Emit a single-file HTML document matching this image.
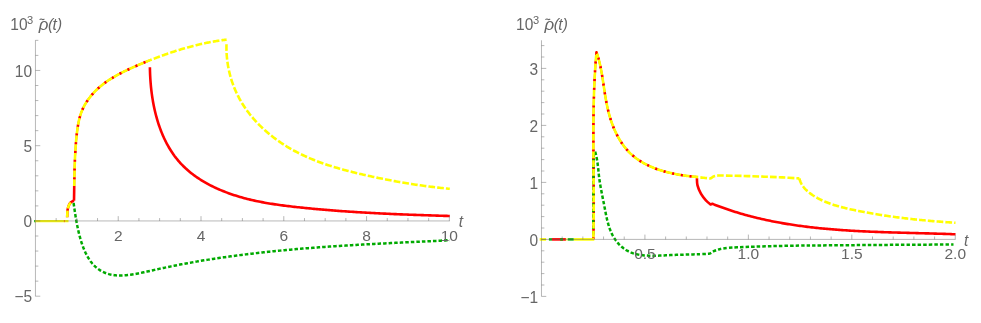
<!DOCTYPE html>
<html><head><meta charset="utf-8"><title>plots</title>
<style>
html,body{margin:0;padding:0;background:#fff;}
svg{display:block;}
.tl{font-family:"Liberation Sans",sans-serif;font-size:15.5px;fill:#666666;}
</style></head><body>
<svg width="981" height="323" viewBox="0 0 981 323" style="will-change:transform">
<rect width="981" height="323" fill="#ffffff"/>
<path d="M67.20 217.30 C67.22 216.85 67.23 215.85 67.30 214.60 C67.37 213.35 67.35 211.33 67.60 209.80 C67.85 208.27 68.28 206.62 68.80 205.40 C69.32 204.18 70.08 203.18 70.70 202.50 C71.32 201.82 71.95 201.58 72.50 201.30 C73.05 201.02 73.75 200.88 74.00 200.80" stroke="#ff0000" stroke-width="2.60" fill="none" />
<path d="M74.00 200.80 L74.02 199.83 L74.04 198.86 L74.05 197.89 L74.07 196.91 L74.09 195.94 L74.10 194.96 L74.12 193.98 L74.14 193.00 L74.15 192.02 L74.17 191.03 L74.18 190.05 L74.20 189.06 L74.21 188.07 L74.23 187.08 L74.24 186.09" stroke="#ff0000" stroke-width="2.60" fill="none" />
<path d="M74.24 186.09 L74.26 185.10 L74.27 184.11 L74.29 183.11 L74.31 182.12 L74.32 181.12 L74.34 180.12 L74.36 179.12 L74.38 178.12 L74.40 177.12 L74.42 176.12 L74.44 175.12 L74.46 174.12 L74.49 173.11 L74.51 172.11 L74.54 171.10 L74.56 170.10 L74.59 169.09 L74.62 168.09 L74.65 167.08 L74.68 166.07 L74.72 165.07 L74.75 164.06 L74.79 163.05 L74.82 162.04 L74.86 161.04 L74.91 160.03 L74.95 159.02 L74.99 158.01 L75.04 157.01 L75.09 156.00 L75.14 154.99 L75.20 153.98 L75.25 152.98 L75.31 151.97 L75.37 150.97 L75.43 149.96 L75.50 148.96 L75.57 147.95 L75.64 146.95 L75.71 145.95 L75.78 144.95 L75.86 143.94 L75.94 142.94 L76.03 141.95 L76.12 140.95 L76.21 139.95 L76.30 138.95 L76.39 137.96 L76.49 136.96 L76.60 135.97 L76.70 134.98 L76.81 133.99 L76.93 133.00 L77.04 132.01 L77.17 131.03 L77.29 130.04 L77.43 129.06 L77.57 128.08 L77.71 127.10 L77.87 126.13 L78.03 125.16 L78.20 124.19 L78.38 123.22 L78.57 122.26 L78.77 121.30 L78.98 120.35 L79.21 119.40 L79.44 118.45 L79.69 117.51 L79.95 116.57 L80.23 115.64 L80.52 114.71 L80.82 113.79 L81.14 112.87 L81.47 111.95 L81.83 111.05 L82.20 110.15 L82.58 109.25 L82.99 108.36 L83.41 107.48 L83.85 106.60 L84.31 105.73 L84.78 104.87 L85.27 104.01 L85.78 103.16 L86.30 102.32 L86.84 101.48 L87.39 100.66 L87.95 99.84 L88.53 99.03 L89.12 98.23 L89.73 97.43 L90.35 96.65 L90.97 95.87 L91.62 95.10 L92.27 94.35 L92.93 93.60 L93.60 92.86 L94.29 92.13 L94.98 91.41 L95.68 90.70 L96.39 90.00 L97.11 89.31 L97.83 88.63 L98.57 87.97 L99.31 87.31 L100.06 86.66 L100.81 86.03 L101.57 85.40 L102.34 84.79 L103.12 84.18 L103.90 83.58 L104.69 82.99 L105.48 82.41 L106.28 81.84 L107.08 81.28 L107.90 80.73 L108.71 80.18 L109.54 79.64 L110.36 79.11 L111.20 78.59 L112.04 78.07 L112.88 77.56 L113.73 77.05 L114.58 76.56 L115.44 76.07 L116.30 75.58 L117.17 75.10 L118.04 74.63 L118.91 74.16 L119.79 73.69 L120.67 73.23 L121.56 72.78 L122.45 72.33 L123.34 71.88 L124.24 71.44 L125.14 71.00 L126.04 70.56 L126.95 70.13 L127.86 69.70 L128.77 69.27 L129.68 68.84 L130.60 68.42 L131.51 68.00 L132.43 67.59 L133.36 67.17 L134.28 66.76 L135.21 66.35 L136.13 65.95 L137.06 65.54 L137.99 65.14 L138.93 64.74 L139.86 64.35 L140.79 63.96 L141.73 63.56 L142.66 63.18 L143.60 62.79 L144.53 62.41 L145.47 62.03 L146.41 61.65 L147.34 61.27 L148.28 60.90 L149.21 60.53" stroke="#ff0000" stroke-width="1.90" fill="none" />
<path d="M74.24 186.09 L74.26 185.10 L74.27 184.11 L74.29 183.11 L74.31 182.12 L74.32 181.12 L74.34 180.12 L74.36 179.12 L74.38 178.12 L74.40 177.12 L74.42 176.12 L74.44 175.12 L74.46 174.12 L74.49 173.11 L74.51 172.11 L74.54 171.10 L74.56 170.10 L74.59 169.09 L74.62 168.09 L74.65 167.08 L74.68 166.07 L74.72 165.07 L74.75 164.06 L74.79 163.05 L74.82 162.04 L74.86 161.04 L74.91 160.03 L74.95 159.02 L74.99 158.01 L75.04 157.01 L75.09 156.00 L75.14 154.99 L75.20 153.98 L75.25 152.98 L75.31 151.97 L75.37 150.97 L75.43 149.96 L75.50 148.96 L75.57 147.95 L75.64 146.95 L75.71 145.95 L75.78 144.95 L75.86 143.94 L75.94 142.94 L76.03 141.95 L76.12 140.95 L76.21 139.95 L76.30 138.95 L76.39 137.96 L76.49 136.96 L76.60 135.97 L76.70 134.98 L76.81 133.99 L76.93 133.00 L77.04 132.01 L77.17 131.03 L77.29 130.04 L77.43 129.06 L77.57 128.08 L77.71 127.10 L77.87 126.13 L78.03 125.16 L78.20 124.19 L78.38 123.22 L78.57 122.26 L78.77 121.30 L78.98 120.35 L79.21 119.40 L79.44 118.45 L79.69 117.51 L79.95 116.57 L80.23 115.64 L80.52 114.71 L80.82 113.79 L81.14 112.87 L81.47 111.95 L81.83 111.05 L82.20 110.15 L82.58 109.25 L82.99 108.36 L83.41 107.48 L83.85 106.60 L84.31 105.73 L84.78 104.87 L85.27 104.01 L85.78 103.16 L86.30 102.32 L86.84 101.48 L87.39 100.66 L87.95 99.84 L88.53 99.03 L89.12 98.23 L89.73 97.43 L90.35 96.65 L90.97 95.87 L91.62 95.10 L92.27 94.35 L92.93 93.60 L93.60 92.86 L94.29 92.13 L94.98 91.41 L95.68 90.70 L96.39 90.00 L97.11 89.31 L97.83 88.63 L98.57 87.97 L99.31 87.31 L100.06 86.66 L100.81 86.03 L101.57 85.40 L102.34 84.79 L103.12 84.18 L103.90 83.58 L104.69 82.99 L105.48 82.41 L106.28 81.84 L107.08 81.28 L107.90 80.73 L108.71 80.18 L109.54 79.64 L110.36 79.11 L111.20 78.59 L112.04 78.07 L112.88 77.56 L113.73 77.05 L114.58 76.56 L115.44 76.07 L116.30 75.58 L117.17 75.10 L118.04 74.63 L118.91 74.16 L119.79 73.69 L120.67 73.23 L121.56 72.78 L122.45 72.33 L123.34 71.88 L124.24 71.44 L125.14 71.00 L126.04 70.56 L126.95 70.13 L127.86 69.70 L128.77 69.27 L129.68 68.84 L130.60 68.42 L131.51 68.00 L132.43 67.59 L133.36 67.17 L134.28 66.76 L135.21 66.35 L136.13 65.95 L137.06 65.54 L137.99 65.14 L138.93 64.74 L139.86 64.35 L140.79 63.96 L141.73 63.56 L142.66 63.18 L143.60 62.79 L144.53 62.41 L145.47 62.03 L146.41 61.65 L147.34 61.27 L148.28 60.90 L149.21 60.53" stroke="#ff0000" stroke-width="2.60" fill="none" stroke-dasharray="2.3 6.5" stroke-dashoffset="2.2"/>
<path d="M149.90 67.20 L149.93 68.66 L149.96 70.12 L150.00 71.59 L150.05 73.06 L150.11 74.54 L150.18 76.02 L150.26 77.51 L150.35 79.00 L150.45 80.50 L150.56 82.00 L150.68 83.50 L150.81 85.01 L150.95 86.52 L151.11 88.03 L151.27 89.54 L151.45 91.06 L151.64 92.57 L151.84 94.09 L152.05 95.60 L152.27 97.12 L152.51 98.64 L152.76 100.15 L153.02 101.67 L153.30 103.18 L153.58 104.69 L153.88 106.20 L154.20 107.71 L154.52 109.21 L154.86 110.72 L155.22 112.21 L155.59 113.71 L155.97 115.20 L156.36 116.68 L156.77 118.16 L157.20 119.64 L157.64 121.11 L158.09 122.57 L158.56 124.03 L159.04 125.48 L159.54 126.92 L160.06 128.36 L160.59 129.78 L161.13 131.20 L161.69 132.62 L162.27 134.02 L162.87 135.41 L163.48 136.80 L164.10 138.17 L164.75 139.54 L165.41 140.89 L166.09 142.23 L166.78 143.56 L167.49 144.88 L168.22 146.19 L168.97 147.49 L169.73 148.77 L170.52 150.04 L171.32 151.29 L172.14 152.54 L172.97 153.76 L173.83 154.98 L174.70 156.18 L175.60 157.36 L176.51 158.53 L177.44 159.68 L178.39 160.82 L179.36 161.94 L180.35 163.04 L181.36 164.13 L182.39 165.19 L183.44 166.24 L184.51 167.28 L185.59 168.30 L186.70 169.30 L187.82 170.28 L188.95 171.25 L190.10 172.20 L191.27 173.14 L192.46 174.06 L193.65 174.96 L194.87 175.85 L196.09 176.72 L197.33 177.57 L198.58 178.41 L199.85 179.24 L201.13 180.05 L202.41 180.84 L203.71 181.62 L205.02 182.38 L206.34 183.13 L207.68 183.87 L209.02 184.58 L210.36 185.29 L211.72 185.98 L213.09 186.66 L214.46 187.32 L215.84 187.96 L217.23 188.60 L218.62 189.22 L220.02 189.82 L221.42 190.42 L222.83 190.99 L224.24 191.56 L225.66 192.11 L227.08 192.65 L228.50 193.18 L229.93 193.69 L231.35 194.19 L232.78 194.67 L234.22 195.15 L235.65 195.61 L237.09 196.06 L238.52 196.50 L239.96 196.93 L241.41 197.34 L242.85 197.75 L244.30 198.14 L245.74 198.53 L247.19 198.90 L248.65 199.26 L250.10 199.62 L251.56 199.96 L253.01 200.30 L254.47 200.62 L255.93 200.94 L257.39 201.25 L258.86 201.55 L260.32 201.84 L261.79 202.12 L263.26 202.40 L264.73 202.67 L266.20 202.93 L267.68 203.18 L269.15 203.43 L270.63 203.67 L272.11 203.90 L273.59 204.13 L275.07 204.36 L276.55 204.57 L278.04 204.79 L279.52 204.99 L281.01 205.20 L282.50 205.39 L283.98 205.59 L285.47 205.78 L286.97 205.96 L288.46 206.14 L289.95 206.32 L291.45 206.50 L292.94 206.67 L294.44 206.84 L295.94 207.01 L297.44 207.17 L298.94 207.33 L300.44 207.49 L301.94 207.65 L303.45 207.81 L304.95 207.96 L306.46 208.12 L307.96 208.27 L309.47 208.41 L310.98 208.56 L312.48 208.70 L313.99 208.85 L315.50 208.99 L317.01 209.12 L318.53 209.26 L320.04 209.40 L321.55 209.53 L323.06 209.66 L324.58 209.79 L326.09 209.92 L327.61 210.04 L329.12 210.17 L330.64 210.29 L332.15 210.41 L333.67 210.53 L335.19 210.64 L336.71 210.76 L338.22 210.87 L339.74 210.98 L341.26 211.09 L342.78 211.20 L344.30 211.31 L345.82 211.41 L347.34 211.52 L348.86 211.62 L350.38 211.72 L351.90 211.82 L353.42 211.92 L354.94 212.02 L356.46 212.11 L357.98 212.21 L359.50 212.30 L361.02 212.39 L362.54 212.48 L364.06 212.57 L365.58 212.65 L367.10 212.74 L368.62 212.82 L370.14 212.91 L371.66 212.99 L373.18 213.07 L374.70 213.15 L376.22 213.23 L377.74 213.30 L379.25 213.38 L380.77 213.45 L382.29 213.53 L383.81 213.60 L385.32 213.67 L386.84 213.74 L388.36 213.81 L389.87 213.88 L391.39 213.95 L392.90 214.01 L394.41 214.08 L395.93 214.14 L397.44 214.21 L398.95 214.27 L400.46 214.33 L401.97 214.39 L403.48 214.45 L404.99 214.51 L406.50 214.57 L408.01 214.63 L409.51 214.69 L411.02 214.74 L412.53 214.80 L414.03 214.85 L415.53 214.91 L417.04 214.96 L418.54 215.01 L420.04 215.07 L421.54 215.12 L423.03 215.17 L424.53 215.22 L426.03 215.27 L427.52 215.32 L429.02 215.36 L430.51 215.41 L432.00 215.46 L433.49 215.51 L434.98 215.55 L436.47 215.60 L437.95 215.65 L439.44 215.69 L440.92 215.74 L442.40 215.78 L443.89 215.83 L445.36 215.87 L446.84 215.91 L448.32 215.96 L449.79 216.00" stroke="#ff0000" stroke-width="2.60" fill="none" />
<path d="M73.60 203.00 L73.81 204.49 L74.02 205.97 L74.23 207.44 L74.44 208.91 L74.66 210.37 L74.87 211.82 L75.09 213.27 L75.32 214.72 L75.55 216.17 L75.78 217.62 L76.03 219.07 L76.28 220.52 L76.54 221.98 L76.82 223.44 L77.10 224.90 L77.39 226.37 L77.70 227.85 L78.03 229.34 L78.36 230.84 L78.71 232.35 L79.08 233.87 L79.47 235.40 L79.88 236.93 L80.30 238.46 L80.74 239.99 L81.21 241.51 L81.70 243.03 L82.21 244.54 L82.74 246.04 L83.30 247.53 L83.89 249.00 L84.50 250.46 L85.14 251.89 L85.81 253.31 L86.51 254.69 L87.23 256.05 L87.99 257.38 L88.78 258.68 L89.61 259.94 L90.47 261.16 L91.36 262.35 L92.29 263.49 L93.25 264.59 L94.26 265.64 L95.30 266.64 L96.38 267.59 L97.50 268.49 L98.65 269.33 L99.84 270.13 L101.06 270.86 L102.31 271.54 L103.59 272.17 L104.90 272.74 L106.22 273.26 L107.57 273.71 L108.94 274.11 L110.33 274.46 L111.73 274.74 L113.14 274.98 L114.56 275.17 L116.00 275.31 L117.44 275.41 L118.88 275.47 L120.33 275.49 L121.79 275.48 L123.25 275.43 L124.71 275.35 L126.18 275.24 L127.65 275.10 L129.13 274.94 L130.61 274.75 L132.09 274.54 L133.58 274.30 L135.07 274.05 L136.56 273.78 L138.05 273.50 L139.55 273.20 L141.04 272.89 L142.54 272.57 L144.04 272.24 L145.54 271.90 L147.04 271.56 L148.54 271.22 L150.04 270.88 L151.55 270.54 L153.05 270.20 L154.55 269.86 L156.05 269.53 L157.55 269.20 L159.05 268.87 L160.55 268.55 L162.05 268.23 L163.55 267.91 L165.05 267.60 L166.55 267.28 L168.05 266.97 L169.55 266.67 L171.04 266.36 L172.54 266.06 L174.04 265.76 L175.54 265.47 L177.04 265.18 L178.53 264.89 L180.03 264.60 L181.53 264.31 L183.02 264.03 L184.52 263.75 L186.02 263.48 L187.51 263.20 L189.01 262.93 L190.51 262.66 L192.00 262.39 L193.50 262.13 L194.99 261.87 L196.49 261.61 L197.98 261.35 L199.48 261.10 L200.97 260.85 L202.47 260.60 L203.96 260.35 L205.45 260.11 L206.95 259.87 L208.44 259.63 L209.94 259.39 L211.43 259.16 L212.92 258.93 L214.42 258.70 L215.91 258.47 L217.40 258.24 L218.90 258.02 L220.39 257.80 L221.88 257.58 L223.37 257.36 L224.87 257.15 L226.36 256.94 L227.85 256.73 L229.34 256.52 L230.84 256.32 L232.33 256.11 L233.82 255.91 L235.31 255.71 L236.80 255.51 L238.30 255.32 L239.79 255.13 L241.28 254.94 L242.77 254.75 L244.26 254.56 L245.75 254.37 L247.25 254.19 L248.74 254.01 L250.23 253.83 L251.72 253.65 L253.21 253.48 L254.70 253.30 L256.19 253.13 L257.69 252.96 L259.18 252.79 L260.67 252.63 L262.16 252.46 L263.65 252.30 L265.14 252.14 L266.63 251.98 L268.13 251.82 L269.62 251.66 L271.11 251.51 L272.60 251.36 L274.09 251.21 L275.58 251.06 L277.08 250.91 L278.57 250.76 L280.06 250.62 L281.55 250.47 L283.04 250.33 L284.53 250.19 L286.03 250.05 L287.52 249.92 L289.01 249.78 L290.50 249.65 L291.99 249.51 L293.49 249.38 L294.98 249.25 L296.47 249.12 L297.96 249.00 L299.46 248.87 L300.95 248.75 L302.44 248.62 L303.93 248.50 L305.43 248.38 L306.92 248.26 L308.41 248.14 L309.91 248.03 L311.40 247.91 L312.89 247.80 L314.39 247.68 L315.88 247.57 L317.37 247.46 L318.87 247.35 L320.36 247.24 L321.86 247.13 L323.35 247.03 L324.85 246.92 L326.34 246.82 L327.84 246.71 L329.33 246.61 L330.83 246.51 L332.32 246.41 L333.82 246.31 L335.31 246.21 L336.81 246.11 L338.30 246.02 L339.80 245.92 L341.30 245.83 L342.79 245.73 L344.29 245.64 L345.79 245.55 L347.29 245.46 L348.78 245.37 L350.28 245.28 L351.78 245.19 L353.28 245.10 L354.78 245.01 L356.27 244.92 L357.77 244.84 L359.27 244.75 L360.77 244.67 L362.27 244.58 L363.77 244.50 L365.27 244.41 L366.77 244.33 L368.27 244.25 L369.77 244.17 L371.27 244.09 L372.78 244.01 L374.28 243.93 L375.78 243.85 L377.28 243.77 L378.78 243.69 L380.29 243.61 L381.79 243.53 L383.29 243.46 L384.80 243.38 L386.30 243.30 L387.81 243.23 L389.31 243.15 L390.82 243.08 L392.32 243.00 L393.83 242.93 L395.33 242.85 L396.84 242.78 L398.35 242.70 L399.85 242.63 L401.36 242.56 L402.87 242.48 L404.38 242.41 L405.89 242.34 L407.39 242.26 L408.90 242.19 L410.41 242.12 L411.92 242.04 L413.43 241.97 L414.94 241.90 L416.45 241.83 L417.97 241.75 L419.48 241.68 L420.99 241.61 L422.50 241.53 L424.02 241.46 L425.53 241.39 L427.04 241.32 L428.56 241.24 L430.07 241.17 L431.59 241.10 L433.10 241.02 L434.62 240.95 L436.13 240.88 L437.65 240.80 L439.17 240.73 L440.69 240.65 L442.20 240.58 L443.72 240.50 L445.24 240.43 L446.76 240.35 L448.28 240.28 L449.80 240.20" stroke="#00aa00" stroke-width="2.50" fill="none" stroke-dasharray="3.5 2.05" />
<path d="M34.20 221.10 L35.60 221.10" stroke="#00aa00" stroke-width="2.40" fill="none" />
<path d="M35.00 221.10 L68.50 221.10" stroke="#ffff00" stroke-width="2.40" fill="none" />
<rect x="63.90" y="220.00" width="0.9" height="2.2" fill="#ff0000" opacity="0.55"/>
<path d="M67.20 217.30 C67.22 216.85 67.23 215.85 67.30 214.60 C67.37 213.35 67.35 211.33 67.60 209.80 C67.85 208.27 68.27 206.62 68.80 205.40 C69.33 204.18 70.47 202.98 70.80 202.50" stroke="#ffff00" stroke-width="2.60" fill="none" stroke-dasharray="6.7 2.1" />
<path d="M74.24 186.09 L74.26 185.10 L74.27 184.11 L74.29 183.11 L74.31 182.12 L74.32 181.12 L74.34 180.12 L74.36 179.12 L74.38 178.12 L74.40 177.12 L74.42 176.12 L74.44 175.12 L74.46 174.12 L74.49 173.11 L74.51 172.11 L74.54 171.10 L74.56 170.10 L74.59 169.09 L74.62 168.09 L74.65 167.08 L74.68 166.07 L74.72 165.07 L74.75 164.06 L74.79 163.05 L74.82 162.04 L74.86 161.04 L74.91 160.03 L74.95 159.02 L74.99 158.01 L75.04 157.01 L75.09 156.00 L75.14 154.99 L75.20 153.98 L75.25 152.98 L75.31 151.97 L75.37 150.97 L75.43 149.96 L75.50 148.96 L75.57 147.95 L75.64 146.95 L75.71 145.95 L75.78 144.95 L75.86 143.94 L75.94 142.94 L76.03 141.95 L76.12 140.95 L76.21 139.95 L76.30 138.95 L76.39 137.96 L76.49 136.96 L76.60 135.97 L76.70 134.98 L76.81 133.99 L76.93 133.00 L77.04 132.01 L77.17 131.03 L77.29 130.04 L77.43 129.06 L77.57 128.08 L77.71 127.10 L77.87 126.13 L78.03 125.16 L78.20 124.19 L78.38 123.22 L78.57 122.26 L78.77 121.30 L78.98 120.35 L79.21 119.40 L79.44 118.45 L79.69 117.51 L79.95 116.57 L80.23 115.64 L80.52 114.71 L80.82 113.79 L81.14 112.87 L81.47 111.95 L81.83 111.05 L82.20 110.15 L82.58 109.25 L82.99 108.36 L83.41 107.48 L83.85 106.60 L84.31 105.73 L84.78 104.87 L85.27 104.01 L85.78 103.16 L86.30 102.32 L86.84 101.48 L87.39 100.66 L87.95 99.84 L88.53 99.03 L89.12 98.23 L89.73 97.43 L90.35 96.65 L90.97 95.87 L91.62 95.10 L92.27 94.35 L92.93 93.60 L93.60 92.86 L94.29 92.13 L94.98 91.41 L95.68 90.70 L96.39 90.00 L97.11 89.31 L97.83 88.63 L98.57 87.97 L99.31 87.31 L100.06 86.66 L100.81 86.03 L101.57 85.40 L102.34 84.79 L103.12 84.18 L103.90 83.58 L104.69 82.99 L105.48 82.41 L106.28 81.84 L107.08 81.28 L107.90 80.73 L108.71 80.18 L109.54 79.64 L110.36 79.11 L111.20 78.59 L112.04 78.07 L112.88 77.56 L113.73 77.05 L114.58 76.56 L115.44 76.07 L116.30 75.58 L117.17 75.10 L118.04 74.63 L118.91 74.16 L119.79 73.69 L120.67 73.23 L121.56 72.78 L122.45 72.33 L123.34 71.88 L124.24 71.44 L125.14 71.00 L126.04 70.56 L126.95 70.13 L127.86 69.70 L128.77 69.27 L129.68 68.84 L130.60 68.42 L131.51 68.00 L132.43 67.59 L133.36 67.17 L134.28 66.76 L135.21 66.35 L136.13 65.95 L137.06 65.54 L137.99 65.14 L138.93 64.74 L139.86 64.35 L140.79 63.96 L141.73 63.56 L142.66 63.18 L143.60 62.79 L144.53 62.41 L145.47 62.03 L146.41 61.65 L147.34 61.27 L148.28 60.90 L149.21 60.53 L150.15 60.16 L151.09 59.79 L152.02 59.42 L152.95 59.06 L153.89 58.70 L154.82 58.34 L155.76 57.99 L156.69 57.64 L157.62 57.28 L158.56 56.94 L159.49 56.59 L160.42 56.25 L161.35 55.91 L162.29 55.57 L163.22 55.23 L164.15 54.90 L165.08 54.57 L166.02 54.24 L166.95 53.91 L167.88 53.59 L168.82 53.27 L169.75 52.95 L170.68 52.64 L171.62 52.33 L172.55 52.02 L173.49 51.71 L174.42 51.41 L175.36 51.10 L176.29 50.81 L177.23 50.51 L178.17 50.22 L179.11 49.93 L180.04 49.64 L180.98 49.36 L181.92 49.07 L182.87 48.80 L183.81 48.52 L184.75 48.25 L185.69 47.98 L186.64 47.71 L187.58 47.45 L188.53 47.19 L189.48 46.93 L190.42 46.68 L191.37 46.43 L192.32 46.18 L193.28 45.93 L194.23 45.69 L195.18 45.45 L196.14 45.22 L197.10 44.98 L198.05 44.75 L199.01 44.53 L199.98 44.31 L200.94 44.09 L201.90 43.87 L202.87 43.66 L203.84 43.45 L204.80 43.24 L205.77 43.04 L206.75 42.84 L207.72 42.65 L208.70 42.45 L209.67 42.26 L210.65 42.08 L211.63 41.90 L212.62 41.72 L213.60 41.54 L214.59 41.37 L215.58 41.20 L216.57 41.04 L217.56 40.88 L218.56 40.72 L219.56 40.57 L220.55 40.42 L221.56 40.27 L222.56 40.13 L223.57 39.99 L224.58 39.86 L225.59 39.73 L226.60 39.60" stroke="#ffff00" stroke-width="2.60" fill="none" stroke-dasharray="6.7 2.1" />
<path d="M226.50 44.20 L226.47 45.75 L226.45 47.29 L226.46 48.84 L226.50 50.38 L226.55 51.92 L226.62 53.45 L226.72 54.99 L226.84 56.52 L226.98 58.04 L227.14 59.57 L227.32 61.09 L227.53 62.60 L227.75 64.11 L228.00 65.62 L228.26 67.12 L228.55 68.61 L228.86 70.10 L229.19 71.58 L229.54 73.06 L229.91 74.53 L230.30 75.99 L230.71 77.45 L231.14 78.90 L231.59 80.34 L232.06 81.78 L232.55 83.20 L233.06 84.62 L233.59 86.03 L234.14 87.43 L234.71 88.82 L235.30 90.20 L235.91 91.58 L236.54 92.94 L237.18 94.29 L237.85 95.63 L238.53 96.96 L239.24 98.28 L239.96 99.59 L240.70 100.89 L241.46 102.18 L242.23 103.46 L243.03 104.72 L243.84 105.98 L244.66 107.22 L245.51 108.45 L246.37 109.68 L247.24 110.89 L248.13 112.09 L249.04 113.28 L249.96 114.45 L250.90 115.62 L251.85 116.78 L252.82 117.92 L253.80 119.05 L254.80 120.17 L255.80 121.28 L256.83 122.38 L257.86 123.47 L258.91 124.54 L259.97 125.61 L261.05 126.66 L262.13 127.70 L263.23 128.73 L264.34 129.75 L265.46 130.75 L266.59 131.75 L267.74 132.73 L268.89 133.70 L270.06 134.66 L271.23 135.60 L272.42 136.54 L273.61 137.46 L274.81 138.37 L276.03 139.27 L277.25 140.15 L278.48 141.03 L279.72 141.89 L280.96 142.74 L282.22 143.57 L283.48 144.40 L284.75 145.21 L286.03 146.01 L287.31 146.80 L288.60 147.57 L289.90 148.34 L291.20 149.09 L292.51 149.82 L293.82 150.55 L295.14 151.26 L296.46 151.96 L297.79 152.65 L299.13 153.33 L300.47 153.99 L301.81 154.65 L303.16 155.29 L304.52 155.92 L305.88 156.54 L307.24 157.15 L308.61 157.75 L309.99 158.34 L311.37 158.92 L312.75 159.49 L314.14 160.05 L315.53 160.60 L316.93 161.14 L318.33 161.67 L319.73 162.19 L321.14 162.71 L322.55 163.21 L323.97 163.71 L325.39 164.20 L326.81 164.68 L328.24 165.15 L329.67 165.62 L331.11 166.08 L332.54 166.53 L333.98 166.97 L335.43 167.41 L336.87 167.84 L338.32 168.26 L339.78 168.68 L341.23 169.09 L342.69 169.50 L344.15 169.90 L345.62 170.29 L347.08 170.68 L348.55 171.06 L350.02 171.44 L351.50 171.81 L352.97 172.18 L354.45 172.55 L355.93 172.91 L357.41 173.27 L358.90 173.62 L360.38 173.97 L361.87 174.32 L363.36 174.66 L364.85 175.00 L366.34 175.33 L367.84 175.67 L369.33 176.00 L370.83 176.33 L372.32 176.65 L373.82 176.97 L375.32 177.29 L376.82 177.61 L378.32 177.92 L379.83 178.23 L381.33 178.54 L382.83 178.84 L384.33 179.14 L385.84 179.44 L387.34 179.73 L388.85 180.02 L390.35 180.31 L391.86 180.59 L393.36 180.87 L394.87 181.15 L396.37 181.42 L397.88 181.69 L399.38 181.96 L400.89 182.22 L402.39 182.48 L403.89 182.74 L405.40 182.99 L406.90 183.24 L408.40 183.48 L409.90 183.73 L411.40 183.96 L412.90 184.20 L414.40 184.43 L415.89 184.66 L417.39 184.88 L418.88 185.10 L420.37 185.32 L421.86 185.53 L423.35 185.74 L424.84 185.94 L426.33 186.14 L427.81 186.34 L429.29 186.53 L430.77 186.72 L432.25 186.90 L433.73 187.08 L435.20 187.26 L436.67 187.43 L438.14 187.60 L439.61 187.77 L441.07 187.93 L442.53 188.08 L443.99 188.23 L445.45 188.38 L446.90 188.53 L448.35 188.67 L449.80 188.80" stroke="#ffff00" stroke-width="2.60" fill="none" stroke-dasharray="6.7 2.1" />
<text transform="translate(10.30 30.00) scale(1 1.03)" class="tl">10</text>
<text transform="translate(27.10 23.80) scale(1 1.03)" class="tl" style="font-size:11.1px">3</text>
<text transform="translate(38.70 30.00) scale(1.09 1.02)" class="tl" font-style="italic">ρ</text>
<path d="M39.60 19.70 c0.9 -0.9 1.7 -0.9 2.4 -0.4 c0.7 0.5 1.5 0.5 2.4 -0.4" stroke="#666666" stroke-width="1.1" fill="none"/>
<text transform="translate(47.90 30.00) scale(1 1.02)" class="tl" font-style="italic">(</text>
<text transform="translate(52.50 30.00) scale(1 1.02)" class="tl" font-style="italic">t</text>
<text transform="translate(56.90 30.00) scale(1 1.02)" class="tl" font-style="italic">)</text>
<text transform="translate(458.7 227.4) scale(1 1.04)" class="tl" font-style="italic">t</text>
<path d="M552.00 239.40 L566.00 239.40" stroke="#ff0000" stroke-width="2.60" fill="none" />
<path d="M593.30 239.20 L593.36 236.83 L593.41 234.47 L593.46 232.10 L593.51 229.73 L593.55 227.36 L593.58 224.99 L593.61 222.63 L593.64 220.26 L593.66 217.89 L593.68 215.52 L593.69 213.15 L593.70 210.78 L593.71 208.41 L593.72 206.03 L593.72 203.66 L593.72 201.29 L593.72 198.92 L593.71 196.55 L593.70 194.18 L593.69 191.80 L593.68 189.43 L593.67 187.06 L593.66 184.69 L593.64 182.31 L593.63 179.94 L593.61 177.57 L593.59 175.19 L593.57 172.82 L593.55 170.45 L593.54 168.07 L593.52 165.70 L593.50 163.33 L593.48 160.95 L593.47 158.58 L593.45 156.21 L593.44 153.83 L593.42 151.46 L593.41 149.09 L593.40 146.71 L593.39 144.34 L593.39 141.97 L593.38 139.59 L593.38 137.22 L593.38 134.85 L593.39 132.47 L593.39 130.10 L593.40 127.73 L593.42 125.36 L593.43 122.99 L593.45 120.61 L593.48 118.24 L593.51 115.87 L593.54 113.50 L593.58 111.13 L593.62 108.76 L593.66 106.39 L593.71 104.02 L593.77 101.65 L593.83 99.28 L593.90 96.91 L593.97 94.55 L594.05 92.18 L594.14 89.81 L594.23 87.44 L594.33 85.08 L594.44 82.71 L594.55 80.35 L594.67 77.98 L594.79 75.62 L594.93 73.25 L595.07 70.89 L595.22 68.53 L595.37 66.16 L595.54 63.80 L595.71 61.44 L595.90 59.08 L596.09 56.72 L596.29 54.36 L596.50 52.00 L596.87 53.07 L597.22 54.15 L597.56 55.23 L597.88 56.31 L598.20 57.39 L598.50 58.48 L598.79 59.57 L599.08 60.66 L599.35 61.75 L599.61 62.85 L599.87 63.95 L600.12 65.05 L600.35 66.15 L600.59 67.25 L600.81 68.36 L601.03 69.46 L601.24 70.57 L601.44 71.68 L601.64 72.79 L601.84 73.91 L602.03 75.02 L602.21 76.13 L602.39 77.25 L602.57 78.37 L602.75 79.49 L602.92 80.61 L603.09 81.73 L603.26 82.85 L603.43 83.97 L603.60 85.09 L603.77 86.22 L603.94 87.34 L604.11 88.47 L604.28 89.59 L604.45 90.71 L604.62 91.84 L604.79 92.97 L604.97 94.09 L605.15 95.22 L605.34 96.34 L605.52 97.47 L605.72 98.59 L605.91 99.72 L606.12 100.84 L606.33 101.97 L606.54 103.09 L606.76 104.21 L606.99 105.33 L607.23 106.46 L607.47 107.58 L607.72 108.70 L607.98 109.82 L608.25 110.93 L608.53 112.05 L608.82 113.17 L609.12 114.28 L609.43 115.39 L609.74 116.50 L610.07 117.61 L610.41 118.72 L610.76 119.82 L611.13 120.91 L611.50 122.01 L611.88 123.10 L612.27 124.18 L612.68 125.26 L613.10 126.34 L613.52 127.40 L613.96 128.47 L614.41 129.52 L614.88 130.57 L615.35 131.61 L615.84 132.65 L616.33 133.68 L616.84 134.69 L617.37 135.71 L617.90 136.71 L618.45 137.70 L619.01 138.68 L619.58 139.66 L620.17 140.62 L620.77 141.57 L621.38 142.51 L622.01 143.44 L622.64 144.36 L623.30 145.27 L623.96 146.16 L624.64 147.05 L625.33 147.91 L626.04 148.77 L626.76 149.61 L627.50 150.44 L628.25 151.25 L629.01 152.05 L629.79 152.84 L630.58 153.61 L631.39 154.36 L632.21 155.10 L633.05 155.82 L633.90 156.53 L634.76 157.22 L635.64 157.89 L636.53 158.56 L637.43 159.20 L638.34 159.83 L639.27 160.45 L640.21 161.06 L641.16 161.65 L642.12 162.22 L643.09 162.78 L644.07 163.33 L645.06 163.87 L646.06 164.39 L647.07 164.90 L648.09 165.39 L649.11 165.87 L650.15 166.35 L651.19 166.80 L652.24 167.25 L653.30 167.68 L654.37 168.10 L655.44 168.51 L656.52 168.91 L657.60 169.30 L658.69 169.67 L659.79 170.04 L660.89 170.39 L661.99 170.73 L663.10 171.07 L664.22 171.39 L665.33 171.70 L666.45 172.00 L667.58 172.29 L668.70 172.57 L669.83 172.84 L670.96 173.11 L672.10 173.36 L673.23 173.60 L674.37 173.84 L675.50 174.06 L676.64 174.28 L677.78 174.49 L678.91 174.69 L680.05 174.88 L681.18 175.07 L682.32 175.24 L683.45 175.41 L684.58 175.57 L685.71 175.73 L686.83 175.87 L687.96 176.01 L689.08 176.15 L690.19 176.27 L691.31 176.39 L692.41 176.50 L693.52 176.61 L694.62 176.71 L695.71 176.81 L696.80 176.90" stroke="#ff0000" stroke-width="1.90" fill="none" stroke-linejoin="round"/>
<path d="M593.30 239.20 L593.36 236.83 L593.41 234.47 L593.46 232.10 L593.51 229.73 L593.55 227.36 L593.58 224.99 L593.61 222.63 L593.64 220.26 L593.66 217.89 L593.68 215.52 L593.69 213.15 L593.70 210.78 L593.71 208.41 L593.72 206.03 L593.72 203.66 L593.72 201.29 L593.72 198.92 L593.71 196.55 L593.70 194.18 L593.69 191.80 L593.68 189.43 L593.67 187.06 L593.66 184.69 L593.64 182.31 L593.63 179.94 L593.61 177.57 L593.59 175.19 L593.57 172.82 L593.55 170.45 L593.54 168.07 L593.52 165.70 L593.50 163.33 L593.48 160.95 L593.47 158.58 L593.45 156.21 L593.44 153.83 L593.42 151.46 L593.41 149.09 L593.40 146.71 L593.39 144.34 L593.39 141.97 L593.38 139.59 L593.38 137.22 L593.38 134.85 L593.39 132.47 L593.39 130.10 L593.40 127.73 L593.42 125.36 L593.43 122.99 L593.45 120.61 L593.48 118.24 L593.51 115.87 L593.54 113.50 L593.58 111.13 L593.62 108.76 L593.66 106.39 L593.71 104.02 L593.77 101.65 L593.83 99.28 L593.90 96.91 L593.97 94.55 L594.05 92.18 L594.14 89.81 L594.23 87.44 L594.33 85.08 L594.44 82.71 L594.55 80.35 L594.67 77.98 L594.79 75.62 L594.93 73.25 L595.07 70.89 L595.22 68.53 L595.37 66.16 L595.54 63.80 L595.71 61.44 L595.90 59.08 L596.09 56.72 L596.29 54.36 L596.50 52.00" stroke="#ff0000" stroke-width="2.60" fill="none" stroke-dasharray="2.3 6.5" stroke-dashoffset="0.4"/>
<path d="M596.51 52.00 L596.87 53.07 L597.22 54.15 L597.56 55.23 L597.88 56.31 L598.20 57.39 L598.50 58.48 L598.79 59.57 L599.08 60.66 L599.35 61.75 L599.61 62.85 L599.87 63.95 L600.12 65.05 L600.35 66.15 L600.59 67.25 L600.81 68.36 L601.03 69.46 L601.24 70.57 L601.44 71.68 L601.64 72.79 L601.84 73.91 L602.03 75.02 L602.21 76.13 L602.39 77.25 L602.57 78.37 L602.75 79.49 L602.92 80.61 L603.09 81.73 L603.26 82.85 L603.43 83.97 L603.60 85.09 L603.77 86.22 L603.94 87.34 L604.11 88.47 L604.28 89.59 L604.45 90.71 L604.62 91.84 L604.79 92.97 L604.97 94.09 L605.15 95.22 L605.34 96.34 L605.52 97.47 L605.72 98.59 L605.91 99.72 L606.12 100.84 L606.33 101.97 L606.54 103.09 L606.76 104.21 L606.99 105.33 L607.23 106.46 L607.47 107.58 L607.72 108.70 L607.98 109.82 L608.25 110.93 L608.53 112.05 L608.82 113.17 L609.12 114.28 L609.43 115.39 L609.74 116.50 L610.07 117.61 L610.41 118.72 L610.76 119.82 L611.13 120.91 L611.50 122.01 L611.88 123.10 L612.27 124.18 L612.68 125.26 L613.10 126.34 L613.52 127.40 L613.96 128.47 L614.41 129.52 L614.88 130.57 L615.35 131.61 L615.84 132.65 L616.33 133.68 L616.84 134.69 L617.37 135.71 L617.90 136.71 L618.45 137.70 L619.01 138.68 L619.58 139.66 L620.17 140.62 L620.77 141.57 L621.38 142.51 L622.01 143.44 L622.64 144.36 L623.30 145.27 L623.96 146.16 L624.64 147.05 L625.33 147.91 L626.04 148.77 L626.76 149.61 L627.50 150.44 L628.25 151.25 L629.01 152.05 L629.79 152.84 L630.58 153.61 L631.39 154.36 L632.21 155.10 L633.05 155.82 L633.90 156.53 L634.76 157.22 L635.64 157.89 L636.53 158.56 L637.43 159.20 L638.34 159.83 L639.27 160.45 L640.21 161.06 L641.16 161.65 L642.12 162.22 L643.09 162.78 L644.07 163.33 L645.06 163.87 L646.06 164.39 L647.07 164.90 L648.09 165.39 L649.11 165.87 L650.15 166.35 L651.19 166.80 L652.24 167.25 L653.30 167.68 L654.37 168.10 L655.44 168.51 L656.52 168.91 L657.60 169.30 L658.69 169.67 L659.79 170.04 L660.89 170.39 L661.99 170.73 L663.10 171.07 L664.22 171.39 L665.33 171.70 L666.45 172.00 L667.58 172.29 L668.70 172.57 L669.83 172.84 L670.96 173.11 L672.10 173.36 L673.23 173.60 L674.37 173.84 L675.50 174.06 L676.64 174.28 L677.78 174.49 L678.91 174.69 L680.05 174.88 L681.18 175.07 L682.32 175.24 L683.45 175.41 L684.58 175.57 L685.71 175.73 L686.83 175.87 L687.96 176.01 L689.08 176.15 L690.19 176.27 L691.31 176.39 L692.41 176.50 L693.52 176.61 L694.62 176.71 L695.71 176.81 L696.80 176.90" stroke="#ff0000" stroke-width="2.60" fill="none" stroke-dasharray="2.3 6.5" stroke-dashoffset="2.95"/>
<path d="M696.90 178.20 C697.00 179.40 696.83 182.82 697.50 185.40 C698.17 187.98 699.50 191.20 700.90 193.70 C702.30 196.20 704.28 198.62 705.90 200.40 C707.52 202.18 709.82 203.73 710.60 204.40 L712.40 203.80 L713.81 204.36 L715.23 204.92 L716.65 205.46 L718.07 206.00 L719.49 206.53 L720.92 207.06 L722.34 207.57 L723.77 208.08 L725.20 208.59 L726.63 209.08 L728.07 209.57 L729.50 210.05 L730.94 210.52 L732.37 210.99 L733.81 211.45 L735.25 211.90 L736.70 212.35 L738.14 212.79 L739.59 213.22 L741.03 213.64 L742.48 214.06 L743.93 214.48 L745.39 214.88 L746.84 215.28 L748.29 215.68 L749.75 216.06 L751.21 216.44 L752.67 216.82 L754.13 217.19 L755.59 217.55 L757.05 217.91 L758.51 218.26 L759.98 218.60 L761.45 218.94 L762.92 219.27 L764.38 219.60 L765.86 219.92 L767.33 220.24 L768.80 220.55 L770.27 220.85 L771.75 221.15 L773.23 221.44 L774.71 221.73 L776.18 222.02 L777.66 222.29 L779.15 222.57 L780.63 222.84 L782.11 223.10 L783.60 223.36 L785.08 223.61 L786.57 223.86 L788.05 224.10 L789.54 224.34 L791.03 224.57 L792.52 224.80 L794.01 225.02 L795.51 225.24 L797.00 225.46 L798.49 225.67 L799.99 225.88 L801.48 226.08 L802.98 226.28 L804.48 226.47 L805.98 226.66 L807.48 226.84 L808.98 227.03 L810.48 227.20 L811.98 227.38 L813.48 227.55 L814.98 227.71 L816.48 227.87 L817.99 228.03 L819.49 228.19 L821.00 228.34 L822.50 228.49 L824.01 228.63 L825.52 228.77 L827.03 228.91 L828.53 229.04 L830.04 229.17 L831.55 229.30 L833.06 229.42 L834.57 229.55 L836.08 229.66 L837.59 229.78 L839.11 229.89 L840.62 230.00 L842.13 230.11 L843.64 230.21 L845.16 230.31 L846.67 230.41 L848.18 230.51 L849.70 230.60 L851.21 230.69 L852.73 230.78 L854.24 230.87 L855.76 230.95 L857.27 231.03 L858.79 231.11 L860.30 231.19 L861.82 231.27 L863.34 231.34 L864.85 231.41 L866.37 231.48 L867.89 231.55 L869.40 231.62 L870.92 231.68 L872.44 231.74 L873.95 231.81 L875.47 231.86 L876.99 231.92 L878.51 231.98 L880.02 232.04 L881.54 232.09 L883.06 232.14 L884.57 232.19 L886.09 232.24 L887.61 232.29 L889.12 232.34 L890.64 232.39 L892.16 232.44 L893.67 232.48 L895.19 232.53 L896.71 232.57 L898.22 232.61 L899.74 232.66 L901.25 232.70 L902.77 232.74 L904.28 232.78 L905.80 232.82 L907.31 232.86 L908.82 232.90 L910.34 232.94 L911.85 232.98 L913.36 233.02 L914.88 233.06 L916.39 233.10 L917.90 233.14 L919.41 233.18 L920.92 233.22 L922.43 233.26 L923.94 233.30 L925.45 233.34 L926.96 233.38 L928.47 233.42 L929.97 233.46 L931.48 233.50 L932.99 233.55 L934.49 233.59 L936.00 233.63 L937.50 233.68 L939.01 233.73 L940.51 233.77 L942.01 233.82 L943.51 233.87 L945.01 233.92 L946.51 233.97 L948.01 234.02 L949.51 234.07 L951.01 234.13 L952.51 234.18 L954.00 234.24 L955.50 234.30" stroke="#ff0000" stroke-width="2.60" fill="none" stroke-linejoin="round"/>
<path d="M593.25 234.50 L593.25 231.77 L593.26 228.08 L593.26 223.67 L593.27 218.81 L593.28 213.76 L593.28 208.77 L593.29 204.09 L593.30 200.00 L593.31 196.35 L593.32 192.85 L593.33 189.49 L593.34 186.28 L593.35 183.23 L593.37 180.32 L593.38 177.58 L593.40 175.00 L593.42 172.58 L593.44 170.34 L593.45 168.25 L593.48 166.31 L593.50 164.53 L593.53 162.88 L593.56 161.38 L593.60 160.00 L593.64 158.79 L593.69 157.78 L593.74 156.93 L593.80 156.21 L593.86 155.59 L593.93 155.04 L594.01 154.52 L594.10 154.00 L594.21 153.51 L594.34 153.09 L594.48 152.73 L594.63 152.42 L594.78 152.17 L594.91 151.95 L595.02 151.76 L595.10 151.60 L595.55 153.11 L595.94 154.61 L596.30 156.11 L596.62 157.61 L596.91 159.10 L597.16 160.59 L597.39 162.08 L597.60 163.56 L597.79 165.04 L597.97 166.52 L598.13 168.00 L598.28 169.47 L598.44 170.95 L598.59 172.42 L598.74 173.89 L598.90 175.36 L599.08 176.83 L599.26 178.30 L599.46 179.76 L599.68 181.23 L599.90 182.70 L600.14 184.17 L600.39 185.64 L600.65 187.12 L600.92 188.59 L601.19 190.07 L601.47 191.55 L601.76 193.03 L602.05 194.51 L602.34 196.00 L602.64 197.49 L602.94 198.99 L603.24 200.48 L603.54 201.99 L603.84 203.49 L604.14 205.00 L604.43 206.52 L604.72 208.04 L605.01 209.56 L605.30 211.09 L605.60 212.61 L605.90 214.14 L606.22 215.66 L606.54 217.17 L606.88 218.69 L607.24 220.19 L607.61 221.68 L608.01 223.17 L608.42 224.64 L608.87 226.10 L609.34 227.54 L609.84 228.97 L610.38 230.38 L610.95 231.77 L611.56 233.14 L612.21 234.49 L612.90 235.82 L613.63 237.12 L614.42 238.39 L615.25 239.64 L616.13 240.85 L617.06 242.03 L618.03 243.18 L619.05 244.29 L620.11 245.35 L621.21 246.37 L622.35 247.35 L623.52 248.27 L624.73 249.15 L625.97 249.96 L627.25 250.72 L628.55 251.42 L629.88 252.06 L631.23 252.63 L632.61 253.14 L634.02 253.59 L635.44 253.98 L636.88 254.32 L638.34 254.62 L639.81 254.87 L641.30 255.08 L642.80 255.25 L644.30 255.39 L645.82 255.50 L647.34 255.58 L648.87 255.64 L650.40 255.67 L651.93 255.69 L653.46 255.70 L654.99 255.69 L656.53 255.67 L658.07 255.63 L659.60 255.59 L661.14 255.53 L662.68 255.47 L664.22 255.40 L665.75 255.33 L667.29 255.26 L668.83 255.19 L670.37 255.11 L671.90 255.04 L673.44 254.97 L674.97 254.91 L676.50 254.85 L678.03 254.80 L679.56 254.75 L681.08 254.70 L682.60 254.66 L684.12 254.62 L685.64 254.58 L687.15 254.54 L688.66 254.51 L690.16 254.47 L691.66 254.43 L693.16 254.39 L694.65 254.35 L696.14 254.30 L697.62 254.25 L699.10 254.20 L699.10 254.20 C700.25 254.15 704.25 254.00 706.00 253.90 C707.75 253.80 708.68 253.83 709.60 253.60 C710.52 253.37 710.80 252.90 711.50 252.50 C712.20 252.10 712.98 251.58 713.80 251.20 C714.62 250.82 715.45 250.53 716.40 250.20 C717.35 249.87 718.43 249.48 719.50 249.20 C720.57 248.92 721.22 248.73 722.80 248.50 C724.38 248.27 726.60 248.00 729.00 247.80 C731.40 247.60 733.78 247.47 737.20 247.30 C740.62 247.13 743.32 247.00 749.50 246.80 C755.68 246.60 766.05 246.30 774.30 246.10 C782.55 245.90 791.38 245.72 799.00 245.60 C806.62 245.48 809.83 245.48 820.00 245.40 C830.17 245.32 846.67 245.20 860.00 245.10 C873.33 245.00 884.42 244.90 900.00 244.80 C915.58 244.70 944.58 244.55 953.50 244.50" stroke="#00aa00" stroke-width="2.50" fill="none" stroke-dasharray="3.5 2.05" />
<path d="M548.90 239.40 L552.00 239.40" stroke="#00aa00" stroke-width="2.40" fill="none" />
<path d="M560.20 239.40 L562.90 239.40" stroke="#00aa00" stroke-width="2.40" fill="none" />
<path d="M567.70 239.40 L573.80 239.40" stroke="#00aa00" stroke-width="2.40" fill="none" />
<path d="M539.70 239.40 L546.10 239.40" stroke="#ffff00" stroke-width="2.60" fill="none" />
<path d="M573.80 239.40 L594.30 239.40" stroke="#ffff00" stroke-width="2.60" fill="none" />
<path d="M565.60 239.40 L567.70 239.40" stroke="#ffff00" stroke-width="2.60" fill="none" opacity="0.55"/>
<path d="M593.30 239.20 L593.36 236.83 L593.41 234.47 L593.46 232.10 L593.51 229.73 L593.55 227.36 L593.58 224.99 L593.61 222.63 L593.64 220.26 L593.66 217.89 L593.68 215.52 L593.69 213.15 L593.70 210.78 L593.71 208.41 L593.72 206.03 L593.72 203.66 L593.72 201.29 L593.72 198.92 L593.71 196.55 L593.70 194.18 L593.69 191.80 L593.68 189.43 L593.67 187.06 L593.66 184.69 L593.64 182.31 L593.63 179.94 L593.61 177.57 L593.59 175.19 L593.57 172.82 L593.55 170.45 L593.54 168.07 L593.52 165.70 L593.50 163.33 L593.48 160.95 L593.47 158.58 L593.45 156.21 L593.44 153.83 L593.42 151.46 L593.41 149.09 L593.40 146.71 L593.39 144.34 L593.39 141.97 L593.38 139.59 L593.38 137.22 L593.38 134.85 L593.39 132.47 L593.39 130.10 L593.40 127.73 L593.42 125.36 L593.43 122.99 L593.45 120.61 L593.48 118.24 L593.51 115.87 L593.54 113.50 L593.58 111.13 L593.62 108.76 L593.66 106.39 L593.71 104.02 L593.77 101.65 L593.83 99.28 L593.90 96.91 L593.97 94.55 L594.05 92.18 L594.14 89.81 L594.23 87.44 L594.33 85.08 L594.44 82.71 L594.55 80.35 L594.67 77.98 L594.79 75.62 L594.93 73.25 L595.07 70.89 L595.22 68.53 L595.37 66.16 L595.54 63.80 L595.71 61.44 L595.90 59.08 L596.09 56.72 L596.29 54.36 L596.50 52.00" stroke="#ffff00" stroke-width="2.60" fill="none" stroke-dasharray="6.7 2.1" stroke-dashoffset="-1.8"/>
<path d="M596.51 52.00 L596.87 53.07 L597.22 54.15 L597.56 55.23 L597.88 56.31 L598.20 57.39 L598.50 58.48 L598.79 59.57 L599.08 60.66 L599.35 61.75 L599.61 62.85 L599.87 63.95 L600.12 65.05 L600.35 66.15 L600.59 67.25 L600.81 68.36 L601.03 69.46 L601.24 70.57 L601.44 71.68 L601.64 72.79 L601.84 73.91 L602.03 75.02 L602.21 76.13 L602.39 77.25 L602.57 78.37 L602.75 79.49 L602.92 80.61 L603.09 81.73 L603.26 82.85 L603.43 83.97 L603.60 85.09 L603.77 86.22 L603.94 87.34 L604.11 88.47 L604.28 89.59 L604.45 90.71 L604.62 91.84 L604.79 92.97 L604.97 94.09 L605.15 95.22 L605.34 96.34 L605.52 97.47 L605.72 98.59 L605.91 99.72 L606.12 100.84 L606.33 101.97 L606.54 103.09 L606.76 104.21 L606.99 105.33 L607.23 106.46 L607.47 107.58 L607.72 108.70 L607.98 109.82 L608.25 110.93 L608.53 112.05 L608.82 113.17 L609.12 114.28 L609.43 115.39 L609.74 116.50 L610.07 117.61 L610.41 118.72 L610.76 119.82 L611.13 120.91 L611.50 122.01 L611.88 123.10 L612.27 124.18 L612.68 125.26 L613.10 126.34 L613.52 127.40 L613.96 128.47 L614.41 129.52 L614.88 130.57 L615.35 131.61 L615.84 132.65 L616.33 133.68 L616.84 134.69 L617.37 135.71 L617.90 136.71 L618.45 137.70 L619.01 138.68 L619.58 139.66 L620.17 140.62 L620.77 141.57 L621.38 142.51 L622.01 143.44 L622.64 144.36 L623.30 145.27 L623.96 146.16 L624.64 147.05 L625.33 147.91 L626.04 148.77 L626.76 149.61 L627.50 150.44 L628.25 151.25 L629.01 152.05 L629.79 152.84 L630.58 153.61 L631.39 154.36 L632.21 155.10 L633.05 155.82 L633.90 156.53 L634.76 157.22 L635.64 157.89 L636.53 158.56 L637.43 159.20 L638.34 159.83 L639.27 160.45 L640.21 161.06 L641.16 161.65 L642.12 162.22 L643.09 162.78 L644.07 163.33 L645.06 163.87 L646.06 164.39 L647.07 164.90 L648.09 165.39 L649.11 165.87 L650.15 166.35 L651.19 166.80 L652.24 167.25 L653.30 167.68 L654.37 168.10 L655.44 168.51 L656.52 168.91 L657.60 169.30 L658.69 169.67 L659.79 170.04 L660.89 170.39 L661.99 170.73 L663.10 171.07 L664.22 171.39 L665.33 171.70 L666.45 172.00 L667.58 172.29 L668.70 172.57 L669.83 172.84 L670.96 173.11 L672.10 173.36 L673.23 173.60 L674.37 173.84 L675.50 174.06 L676.64 174.28 L677.78 174.49 L678.91 174.69 L680.05 174.88 L681.18 175.07 L682.32 175.24 L683.45 175.41 L684.58 175.57 L685.71 175.73 L686.83 175.87 L687.96 176.01 L689.08 176.15 L690.19 176.27 L691.31 176.39 L692.41 176.50 L693.52 176.61 L694.62 176.71 L695.71 176.81 L696.80 176.90  C697.42 176.98 699.30 177.25 700.50 177.40 C701.70 177.55 702.83 177.67 704.00 177.80 C705.17 177.93 706.45 178.10 707.50 178.20 C708.55 178.30 709.58 178.50 710.30 178.40 C711.02 178.30 711.32 177.90 711.80 177.60 C712.28 177.30 712.63 176.88 713.20 176.60 C713.77 176.32 714.48 176.07 715.20 175.90 C715.92 175.73 716.62 175.67 717.50 175.60 C718.38 175.53 718.17 175.48 720.50 175.50 C722.83 175.52 726.90 175.60 731.50 175.70 C736.10 175.80 742.52 175.93 748.10 176.10 C753.68 176.27 759.33 176.48 765.00 176.70 C770.67 176.92 776.38 177.12 782.10 177.40 C787.82 177.68 796.43 178.23 799.30 178.40" stroke="#ffff00" stroke-width="2.60" fill="none" stroke-dasharray="6.7 2.1" stroke-linejoin="round" stroke-dashoffset="0.75"/>
<path d="M799.30 178.40 L799.68 179.77 L800.15 181.10 L800.69 182.37 L801.30 183.59 L801.98 184.78 L802.73 185.91 L803.53 187.01 L804.39 188.06 L805.30 189.08 L806.26 190.06 L807.26 191.00 L808.30 191.91 L809.37 192.78 L810.48 193.62 L811.61 194.44 L812.76 195.23 L813.94 195.99 L815.13 196.72 L816.33 197.43 L817.55 198.11 L818.79 198.78 L820.04 199.41 L821.30 200.03 L822.58 200.63 L823.87 201.20 L825.18 201.76 L826.49 202.29 L827.81 202.81 L829.15 203.31 L830.49 203.79 L831.85 204.26 L833.21 204.71 L834.58 205.14 L835.95 205.57 L837.33 205.97 L838.72 206.37 L840.12 206.75 L841.52 207.12 L842.92 207.48 L844.33 207.83 L845.73 208.17 L847.15 208.51 L848.56 208.83 L849.97 209.15 L851.39 209.46 L852.80 209.76 L854.21 210.06 L855.63 210.36 L857.04 210.65 L858.45 210.94 L859.86 211.22 L861.26 211.50 L862.67 211.77 L864.07 212.04 L865.48 212.30 L866.88 212.56 L868.28 212.82 L869.69 213.08 L871.09 213.32 L872.49 213.57 L873.89 213.81 L875.28 214.05 L876.68 214.28 L878.08 214.51 L879.48 214.74 L880.87 214.96 L882.27 215.18 L883.66 215.40 L885.06 215.61 L886.45 215.82 L887.85 216.02 L889.24 216.23 L890.64 216.42 L892.03 216.62 L893.43 216.81 L894.82 217.00 L896.22 217.19 L897.61 217.37 L899.00 217.55 L900.40 217.73 L901.80 217.90 L903.19 218.07 L904.59 218.24 L905.98 218.41 L907.38 218.57 L908.78 218.73 L910.18 218.89 L911.57 219.04 L912.97 219.19 L914.37 219.34 L915.77 219.49 L917.17 219.64 L918.58 219.78 L919.98 219.92 L921.38 220.06 L922.79 220.19 L924.20 220.33 L925.60 220.46 L927.01 220.59 L928.42 220.71 L929.83 220.84 L931.25 220.96 L932.66 221.08 L934.07 221.20 L935.49 221.32 L936.91 221.44 L938.33 221.55 L939.75 221.66 L941.17 221.77 L942.60 221.88 L944.02 221.99 L945.45 222.10 L946.88 222.20 L948.31 222.30 L949.75 222.41 L951.18 222.51 L952.62 222.60 L954.06 222.70 L955.50 222.80" stroke="#ffff00" stroke-width="2.60" fill="none" stroke-dasharray="6.7 2.1" />
<ellipse cx="596.45" cy="52.6" rx="1.25" ry="1.5" fill="#ff0000"/>
<text transform="translate(516.10 30.00) scale(1 1.03)" class="tl">10</text>
<text transform="translate(532.90 23.80) scale(1 1.03)" class="tl" style="font-size:11.1px">3</text>
<text transform="translate(544.50 30.00) scale(1.09 1.02)" class="tl" font-style="italic">ρ</text>
<path d="M545.40 19.70 c0.9 -0.9 1.7 -0.9 2.4 -0.4 c0.7 0.5 1.5 0.5 2.4 -0.4" stroke="#666666" stroke-width="1.1" fill="none"/>
<text transform="translate(553.70 30.00) scale(1 1.02)" class="tl" font-style="italic">(</text>
<text transform="translate(558.30 30.00) scale(1 1.02)" class="tl" font-style="italic">t</text>
<text transform="translate(562.70 30.00) scale(1 1.02)" class="tl" font-style="italic">)</text>
<text transform="translate(964.0 245.6) scale(1 1.04)" class="tl" font-style="italic">t</text>
<path d="M35.45 220.95 L449.80 220.95" stroke="#666666" stroke-width="0.7" stroke-opacity="0.68" fill="none"/>
<path d="M35.45 40.30 L35.45 296.30" stroke="#666666" stroke-width="0.7" stroke-opacity="0.68" fill="none"/>
<text transform="translate(118.23 240.55) scale(1 1.0)" text-anchor="middle" class="tl">2</text>
<text transform="translate(201.01 240.55) scale(1 1.0)" text-anchor="middle" class="tl">4</text>
<text transform="translate(283.79 240.55) scale(1 1.0)" text-anchor="middle" class="tl">6</text>
<text transform="translate(366.57 240.55) scale(1 1.0)" text-anchor="middle" class="tl">8</text>
<text transform="translate(449.35 240.55) scale(1 1.0)" text-anchor="middle" class="tl">10</text>
<text transform="translate(32.05 302.40) scale(1 1.03)" text-anchor="end" class="tl">−5</text>
<text transform="translate(32.05 227.15) scale(1 1.03)" text-anchor="end" class="tl">0</text>
<text transform="translate(32.05 151.90) scale(1 1.03)" text-anchor="end" class="tl">5</text>
<text transform="translate(32.05 76.65) scale(1 1.03)" text-anchor="end" class="tl">10</text>
<path d="M56.15 220.95 V218.05 M76.84 220.95 V218.05 M97.53 220.95 V218.05 M118.23 220.95 V216.15 M138.93 220.95 V218.05 M159.62 220.95 V218.05 M180.31 220.95 V218.05 M201.01 220.95 V216.15 M221.70 220.95 V218.05 M242.40 220.95 V218.05 M263.10 220.95 V218.05 M283.79 220.95 V216.15 M304.49 220.95 V218.05 M325.18 220.95 V218.05 M345.88 220.95 V218.05 M366.57 220.95 V216.15 M387.26 220.95 V218.05 M407.96 220.95 V218.05 M428.65 220.95 V218.05 M449.35 220.95 V216.15 M35.45 296.20 H40.25 M35.45 281.15 H38.35 M35.45 266.10 H38.35 M35.45 251.05 H38.35 M35.45 236.00 H38.35 M35.45 220.95 H40.25 M35.45 205.90 H38.35 M35.45 190.85 H38.35 M35.45 175.80 H38.35 M35.45 160.75 H38.35 M35.45 145.70 H40.25 M35.45 130.65 H38.35 M35.45 115.60 H38.35 M35.45 100.55 H38.35 M35.45 85.50 H38.35 M35.45 70.45 H40.25 M35.45 55.40 H38.35 M35.45 40.35 H38.35 " stroke="#666666" stroke-width="0.7" stroke-opacity="0.68" fill="none"/>
<path d="M541.47 239.40 L955.50 239.40" stroke="#666666" stroke-width="0.7" stroke-opacity="0.68" fill="none"/>
<path d="M541.47 40.30 L541.47 296.40" stroke="#666666" stroke-width="0.7" stroke-opacity="0.68" fill="none"/>
<text transform="translate(644.92 259.00) scale(1 1.0)" text-anchor="middle" class="tl">0.5</text>
<text transform="translate(748.37 259.00) scale(1 1.0)" text-anchor="middle" class="tl">1.0</text>
<text transform="translate(851.82 259.00) scale(1 1.0)" text-anchor="middle" class="tl">1.5</text>
<text transform="translate(955.27 259.00) scale(1 1.0)" text-anchor="middle" class="tl">2.0</text>
<text transform="translate(538.07 302.60) scale(1 1.03)" text-anchor="end" class="tl">−1</text>
<text transform="translate(538.07 245.60) scale(1 1.03)" text-anchor="end" class="tl">0</text>
<text transform="translate(538.07 188.60) scale(1 1.03)" text-anchor="end" class="tl">1</text>
<text transform="translate(538.07 131.60) scale(1 1.03)" text-anchor="end" class="tl">2</text>
<text transform="translate(538.07 74.60) scale(1 1.03)" text-anchor="end" class="tl">3</text>
<path d="M562.16 239.40 V236.50 M582.85 239.40 V236.50 M603.54 239.40 V236.50 M624.23 239.40 V236.50 M644.92 239.40 V234.60 M665.61 239.40 V236.50 M686.30 239.40 V236.50 M706.99 239.40 V236.50 M727.68 239.40 V236.50 M748.37 239.40 V234.60 M769.06 239.40 V236.50 M789.75 239.40 V236.50 M810.44 239.40 V236.50 M831.13 239.40 V236.50 M851.82 239.40 V234.60 M872.51 239.40 V236.50 M893.20 239.40 V236.50 M913.89 239.40 V236.50 M934.58 239.40 V236.50 M955.27 239.40 V234.60 M541.47 296.40 H546.27 M541.47 285.00 H544.37 M541.47 273.60 H544.37 M541.47 262.20 H544.37 M541.47 250.80 H544.37 M541.47 239.40 H546.27 M541.47 228.00 H544.37 M541.47 216.60 H544.37 M541.47 205.20 H544.37 M541.47 193.80 H544.37 M541.47 182.40 H546.27 M541.47 171.00 H544.37 M541.47 159.60 H544.37 M541.47 148.20 H544.37 M541.47 136.80 H544.37 M541.47 125.40 H546.27 M541.47 114.00 H544.37 M541.47 102.60 H544.37 M541.47 91.20 H544.37 M541.47 79.80 H544.37 M541.47 68.40 H546.27 M541.47 57.00 H544.37 M541.47 45.60 H544.37 " stroke="#666666" stroke-width="0.7" stroke-opacity="0.68" fill="none"/>
</svg>
</body></html>
